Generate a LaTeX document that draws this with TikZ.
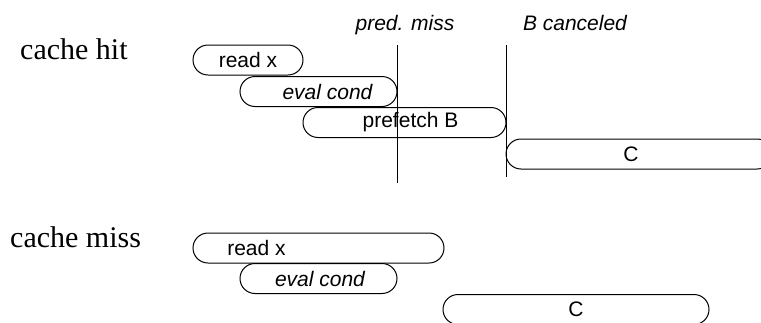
\documentclass[tikz,border=0pt]{standalone}
\usepackage{fontspec}
\setmainfont{Liberation Serif}
\setsansfont{Liberation Sans}
\usetikzlibrary{shapes.misc}
\begin{document}
\begin{tikzpicture}[x=1pt,y=-1pt,
  box/.style={draw, line width=1pt, rounded rectangle, minimum height=30pt, inner sep=0pt},
  sans/.style={font=\fontsize{21}{25}\selectfont\sffamily},
  isans/.style={font=\fontsize{21}{25}\selectfont\sffamily\itshape},
  lab/.style={font=\fontsize{30}{36}\selectfont\rmfamily, anchor=base west, inner sep=0pt},
  marker/.style={line width=1pt}]
\useasboundingbox (0,0) rectangle (761,322);

% ---- cache hit ----
\node[lab] (hit) at (20,59) {cache hit};
\node[isans, anchor=base, inner sep=0pt] (pm) at (405,30) {pred. miss};
\node[isans, anchor=base, inner sep=0pt] (bc) at (575,30) {B canceled};

\node[box, minimum width=110pt, label={[sans]center:read x}] (r1) at (248,60) {};
\node[box, minimum width=157pt, label={[isans, xshift=9pt]center:eval cond}] (e1) at (318.5,91.5) {};
\node[box, minimum width=203pt, label={[sans, xshift=6pt]center:prefetch B}] (p1) at (404.5,122.5) {};
\node[box, minimum width=266pt, label={[sans, xshift=-8pt]center:C}] (c1) at (639,154) {};

\coordinate (m1t) at (397,45);
\coordinate (m1b) at (397,183);
\coordinate (m2t) at (506,45);
\coordinate (m2b) at (506,177);
\draw[marker] (m1t) -- (m1b);
\draw[marker] (m2t) -- (m2b);

% ---- cache miss ----
\node[lab] (miss) at (10,247) {cache miss};
\node[box, minimum width=251pt, label={[sans, xshift=-62pt]center:read x}] (r2) at (318.5,248) {};
\node[box, minimum width=157pt, label={[isans, xshift=1.5pt]center:eval cond}] (e2) at (318.5,278.5) {};
\node[box, minimum width=266pt, label={[sans]center:C}] (c2) at (576,309.5) {};
\end{tikzpicture}
\end{document}
